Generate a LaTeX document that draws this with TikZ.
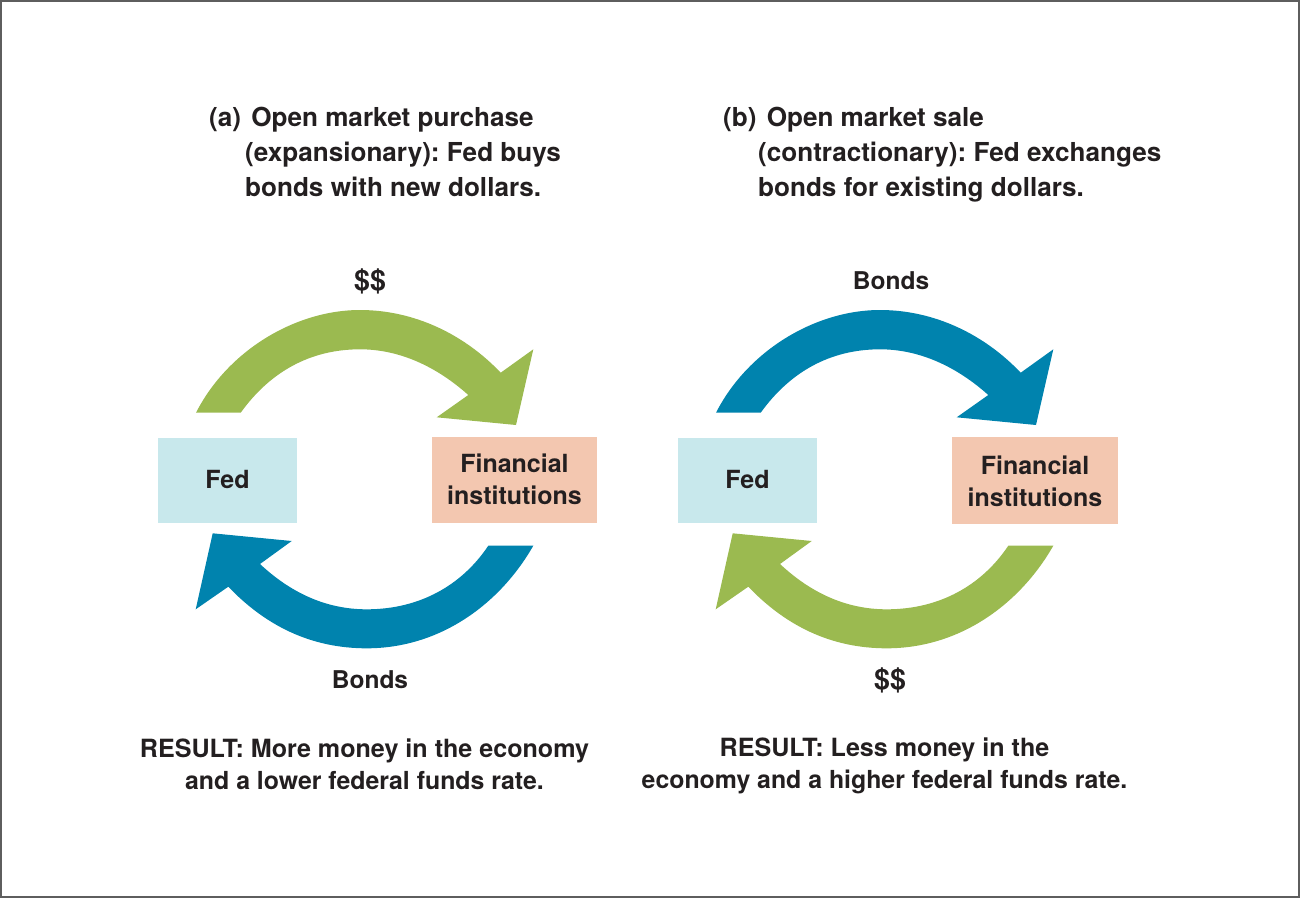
\documentclass[tikz,border=0pt]{standalone}
\usepackage{fontspec}
\setmainfont{TeX Gyre Heros}
\frenchspacing
\definecolor{arrgreen}{HTML}{9BBA50}
\definecolor{arrblue}{HTML}{0083AE}
\definecolor{boxblue}{HTML}{C8E8EC}
\definecolor{boxpeach}{HTML}{F3C7B0}
\definecolor{ink}{HTML}{231F20}
\definecolor{frame}{HTML}{5E5E5E}
\newcommand{\toparrow}{(196,412.7) .. controls (228,350) and (296,310) .. (360,310) .. controls (415,310) and (465,335) .. (500.7,372.7) -- (533.3,349.3) -- (516,425) -- (436.7,417.3) -- (468.3,395) .. controls (437,367) and (400,349.3) .. (360,349.3) .. controls (310,349.3) and (270,372) .. (240.7,412.7) -- cycle}
\newcommand{\botarrow}{(533.3,545.7) .. controls (500,604) and (440,648.3) .. (366.7,648.3) .. controls (310,648.3) and (265,625) .. (228.3,586.7) -- (195.7,609.3) -- (212.7,533.3) -- (291.7,541) -- (260,564) .. controls (290,592) and (325,609.3) .. (366.7,609.3) .. controls (420,609.3) and (462,585) .. (488.3,545.7) -- cycle}
\newcommand{\resline}{\fontsize{24.85}{32}\selectfont}
\tikzset{
  lbl/.style={text=ink,font=\bfseries\fontsize{25}{32}\selectfont,inner sep=0pt,align=center},
  small/.style={lbl,font=\bfseries\fontsize{24.5}{32}\selectfont},
  dollars/.style={lbl,font=\bfseries\fontsize{28.5}{32}\selectfont},
  res/.style={lbl,font=\bfseries\fontsize{25.1}{32}\selectfont},
  head/.style={text=ink,font=\bfseries\fontsize{26.1}{35}\selectfont,inner sep=0pt,align=left,anchor=west},
  boxfed/.style={fill=boxblue,draw=none},
  boxfin/.style={fill=boxpeach,draw=none},
}
\begin{document}
\begin{tikzpicture}[x=1pt,y=-1pt]
\useasboundingbox (0,0) rectangle (1300,898);
\draw[frame,line width=2pt] (1,1) rectangle (1299,897);
% panel a
\fill[arrgreen] \toparrow;
\fill[arrblue] \botarrow;
\fill[boxfed] (158,438) rectangle (297,523);
\fill[boxfin] (431.7,436.7) rectangle (597.3,523.3);
\node[lbl] (feda) at (227.5,479) {Fed};
\node[lbl] (fina) at (514.5,479) {Financial\\institutions};
\node[dollars] (ua) at (370,281) {\$\$};
\node[small] (la) at (370,680) {Bonds};
\node[head] (ha) at (209,152) {(a)\kern3pt{} Open market purchase\\\hspace*{36pt}(expansionary): Fed buys\\\hspace*{36pt}bonds with new dollars.};
\node[res] (ra) at (364.5,764) {RESULT: More money in the economy\\\resline and a lower federal funds rate.};
% panel b
\begin{scope}[xshift=520pt]
\fill[arrblue] \toparrow;
\fill[arrgreen] \botarrow;
\fill[boxfed] (158,438) rectangle (297,523);
\fill[boxfin] (432,436.7) rectangle (597.5,523.5);
\end{scope}
\node[lbl] (fedb) at (747.5,479) {Fed};
\node[lbl] (finb) at (1035,481) {Financial\\institutions};
\node[small] (ub) at (891,281) {Bonds};
\node[dollars] (lb) at (890,680) {\$\$};
\node[head] (hb) at (723,155) {(b)\kern3pt{} Open market sale\\\hspace*{35pt}(contractionary): Fed exchanges\\\hspace*{35pt}bonds for existing dollars.};
\node[res] (rb) at (884.5,766) {RESULT: Less money in the\\\resline economy and a higher federal funds rate.};
\end{tikzpicture}
\end{document}
